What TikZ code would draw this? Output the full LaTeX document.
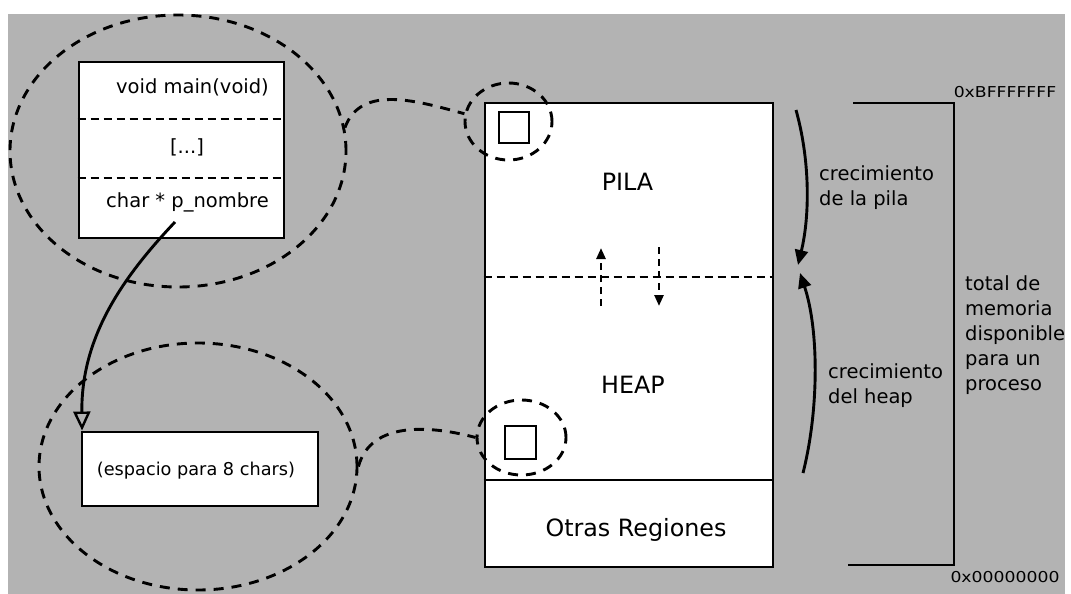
\documentclass[tikz,border=0pt]{standalone}
\usepackage{fontspec}
\setmainfont{DejaVu Sans}
\usetikzlibrary{arrows.meta,shapes.geometric}

\definecolor{bggray}{RGB}{179,179,179}

\begin{document}
\begin{tikzpicture}[x=1pt, y=-1pt,
	membox/.style = {draw, fill = white, line width = 2.9pt, inner sep = 0pt},
	cell/.style = {draw, line width = 2.7pt, inner sep = 0pt, minimum width = 30pt, minimum height = 31pt},
	zoomring/.style = {ellipse, draw, line width = 2.9pt, dash pattern = on 10pt off 8pt, inner sep = 0pt},
	zoomlink/.style = {line width = 2.9pt, dash pattern = on 10pt off 8pt},
	sepline/.style = {line width = 2.7pt, dash pattern = on 8pt off 5pt},
	growarrow/.style = {line width = 2.9pt, -{Triangle[width = 13pt, length = 15pt]}},
	movearrow/.style = {line width = 2.5pt, dash pattern = on 7pt off 5pt, -{Triangle[width = 9pt, length = 11pt]}},
	txt/.style = {inner sep = 0pt, font = \fontsize{19.5}{25}\selectfont},
	bigtxt/.style = {inner sep = 0pt, font = \fontsize{23.8}{28}\selectfont},
	addrtxt/.style = {inner sep = 0pt, transform shape, xscale = 1.15, font = \fontsize{15}{17}\selectfont}]
	\useasboundingbox (0, 0) rectangle (1071, 594);
	\fill[white] (0, 0) rectangle (1071, 594);
	\fill[bggray] (8, 14) rectangle (1065, 594);

	% stack frame of main
	\node[zoomring, minimum width = 336pt, minimum height = 272pt] (stackring) at (178, 151) {};
	\node[membox, minimum width = 205pt, minimum height = 176pt] (frame) at (181.5, 150) {};
	\draw[sepline] (frame.west |- 0, 119) -- (frame.east |- 0, 119);
	\draw[sepline] (frame.west |- 0, 178) -- (frame.east |- 0, 178);
	\node[txt] (fmain) at (192.5, 87) {void main(void)};
	\node[txt] (fdots) at (187, 147) {[...]};
	\node[txt] (fptr) at (187.5, 202) {char * p\_nombre};

	% block reserved in the heap
	\node[zoomring, minimum width = 318pt, minimum height = 247pt] (heapring) at (198, 466.5) {};
	\node[membox, minimum width = 236pt, minimum height = 74pt] (chars) at (200, 469) {};
	\node[txt, font = \fontsize{17.7}{20}\selectfont] (fchars) at (196, 471) {(espacio para 8 chars)};

	\coordinate (ptr) at (175, 222);
	\draw[line width = 2.9pt, -{Triangle[open, width = 17pt, length = 19pt, line width = 2.4pt]}]
		(ptr) .. controls (125, 275) and (81, 335) .. ([xshift = 1.5pt]chars.north west);

	% process memory
	\node[membox, minimum width = 288pt, minimum height = 464pt] (mem) at (629, 335) {};
	\draw[line width = 2.9pt] (mem.west |- 0, 480) -- (mem.east |- 0, 480);
	\draw[sepline] (mem.west |- 0, 277) -- (mem.east |- 0, 277);
	\node[bigtxt] (pila) at (627.5, 182) {PILA};
	\node[bigtxt] (heap) at (633, 385) {HEAP};
	\node[bigtxt] (otras) at (636, 530) {Otras Regiones};

	\coordinate (upfrom) at (601, 306);
	\coordinate (upto) at (601, 248);
	\coordinate (downfrom) at (659, 247);
	\coordinate (downto) at (659, 306);
	\draw[movearrow] (upfrom) -- (upto);
	\draw[movearrow] (downfrom) -- (downto);

	\node[cell] (cellp) at (514, 127.5) {};
	\node[zoomring, minimum width = 87pt, minimum height = 77pt] (pring) at (508.5, 121.5) {};
	\node[cell, minimum width = 31pt, minimum height = 33pt] (cellh) at (520.5, 442.5) {};
	\node[zoomring, minimum width = 89pt, minimum height = 75pt] (hring) at (521.5, 437.5) {};

	\draw[zoomlink] (stackring.8) to[out = 70, in = 165] (pring.170);
	\draw[zoomlink] (heapring.east) to[out = 75, in = 165] (hring.west);

	% growth of stack and heap
	\coordinate (pilafrom) at (796, 110);
	\coordinate (pilato) at (798, 265);
	\coordinate (heapfrom) at (803, 473);
	\coordinate (heapto) at (800, 273);
	\draw[growarrow] (pilafrom) .. controls (810, 160) and (810, 215) .. (pilato);
	\draw[growarrow] (heapfrom) .. controls (819, 410) and (819, 330) .. (heapto);
	\node[txt, align = left, anchor = west] (lpila) at (819, 188) {crecimiento\\de la pila};
	\node[txt, align = left, anchor = west] (lheap) at (828, 386) {crecimiento\\del heap};

	% whole address space
	\coordinate (addrtop) at (853, 103);
	\coordinate (addrbot) at (848, 565);
	\draw[line width = 2.9pt] (addrtop) -| (954, 565) -- (addrbot);
	\node[addrtxt] (hexhi) at (1005, 92) {0xBFFFFFFF};
	\node[addrtxt] (hexlo) at (1005, 577) {0x00000000};
	\node[txt, align = left, anchor = west] (ltotal) at (965, 335) {total de\\memoria\\disponible\\para un\\proceso};
\end{tikzpicture}
\end{document}
